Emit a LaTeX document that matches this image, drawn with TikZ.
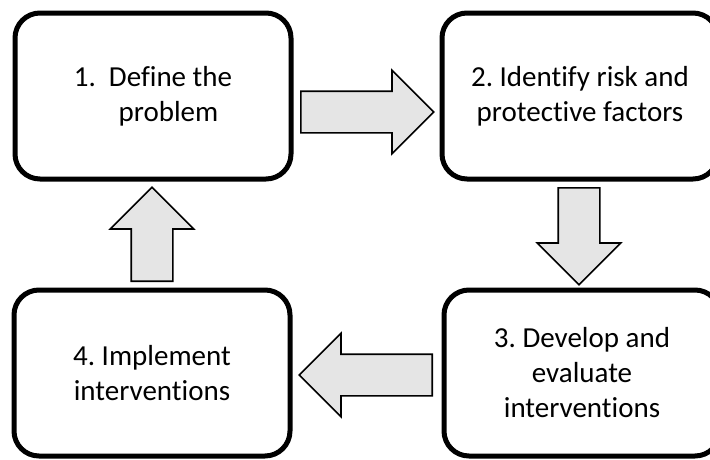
\documentclass[tikz,border=0pt]{standalone}
\usepackage{fontspec}
\setmainfont{Carlito}[Ligatures=NoCommon]
\usetikzlibrary{shapes.arrows,positioning}

\begin{document}
\begin{tikzpicture}[x=1pt,y=-1pt,
  stage/.style={draw=black,line width=5pt,rounded corners=25pt,minimum width=276pt,minimum height=166pt,align=center,font=\fontsize{29}{35}\selectfont\frenchspacing,fill=white},
  blockarr/.style={single arrow,draw=black,line width=1.6pt,fill=black!10,inner xsep=0pt,inner ysep=20pt,single arrow head extend=21pt,minimum height=#1,anchor=tail}
]
\useasboundingbox (0,0) rectangle (710,459);
\clip (0,0) rectangle (710,459);

\node[stage] (s1) at (153,96) {1.\ \ Define the\\\hspace*{31pt}problem};
\node[stage] (s2) at (580,96) {2. Identify risk and\\protective factors};
\node[stage] (s3) at (582,373) {3. Develop and\\evaluate\\interventions};
\node[stage] (s4) at (152,373) {4. Implement\\interventions};

% block arrows between the stages
\node[blockarr=133pt] (a12) at (300,112) {};
\node[blockarr=97pt,rotate=-90] (a23) at (579,187) {};
\node[blockarr=133pt,rotate=180] (a34) at (433,375) {};
\node[blockarr=94pt,rotate=90] (a41) at (152,282) {};
\end{tikzpicture}
\end{document}
